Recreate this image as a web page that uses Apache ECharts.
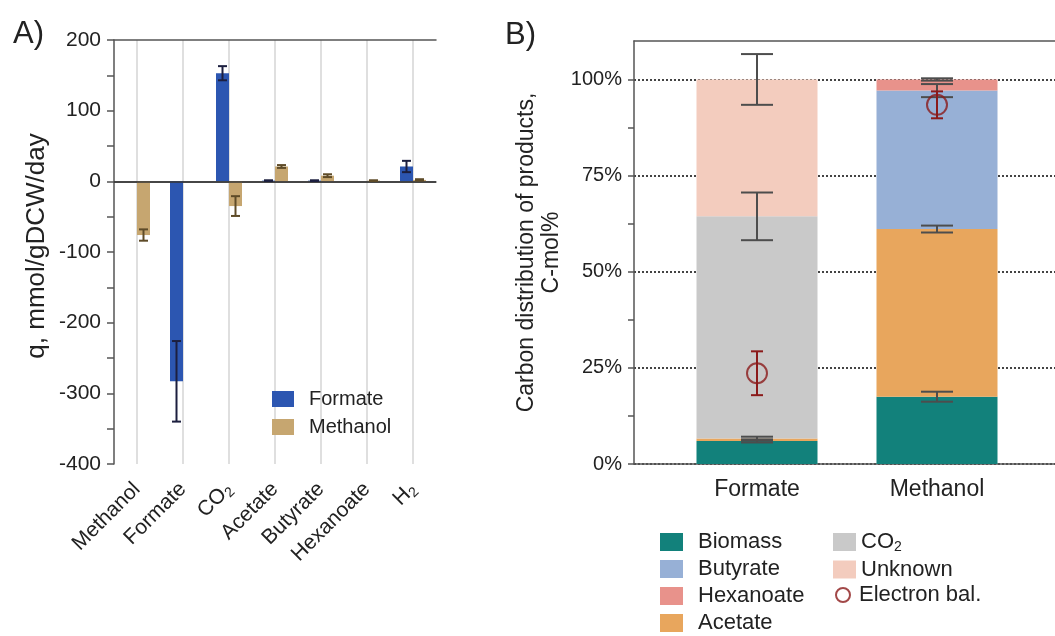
<!DOCTYPE html>
<html>
<head>
<meta charset="utf-8">
<script src="https://cdn.jsdelivr.net/npm/echarts@6/dist/echarts.min.js"></script>
<style>
    html, body { margin: 0; padding: 0; background: #fff; }
    #chart { width: 1055px; height: 636px; }
</style>
</head>
<body>
<div id="chart"></div>
<script>
    // panel A: specific rates, mmol/gDCW/day
    var compoundsA = ['Methanol', 'Formate', 'CO2', 'Acetate', 'Butyrate', 'Hexanoate', 'H2'];
    var qFormate = [0, -283, 153, 1, 1, 0, 21];
    var qFormateErr = [0, 57, 10, 0.5, 0.5, 0, 8];
    var qMethanol = [-76, 0, -35, 21, 8, 1, 2];
    var qMethanolErr = [8, 0, 14, 2, 2, 0.5, 1];

    // panel B: carbon distribution, C-mol%
    var substratesB = ['Formate', 'Methanol'];
    var biomass = [6.0, 17.5];
    var biomassErr = [0.4, 1.3];
    var acetate = [0.6, 43.6];
    var acetateErr = [0.5, 0.9];
    var butyrate = [0, 36.0];
    var butyrateErr = [0, 1.7];
    var hexanoate = [0, 2.9];
    var hexanoateErr = [0, 0.3];
    var co2 = [57.8, 0];
    var co2Err = [6.2, 0];
    var unknown = [35.6, 0];
    var unknownErr = [6.6, 0];
    var electronBal = [23.6, 93.4];
    var electronBalErr = [5.7, 3.5];

    var FONT = 'Liberation Sans, Arial, sans-serif';
    var AXIS = '#555';
    var colors = {
        formate: '#2c56b1', methanol: '#c6a670',
        biomass: '#12817b', butyrate: '#97b0d6', hexanoate: '#e8928b',
        acetate: '#e8a65d', co2: '#c9c9c9', unknown: '#f3ccbe', ebal: '#8b1a1a'
    };

    //下标文字
    function subLabel(name) {
        if (name === 'CO2') return '{n|CO}{s|2}';
        if (name === 'H2') return '{n|H}{s|2}';
        return '{n|' + name + '}';
    }
    function richSub(size) {
        return {
            n: { fontSize: size, fontFamily: FONT, color: '#222' },
            s: { fontSize: Math.round(size * 0.65), fontFamily: FONT, color: '#222', padding: [Math.round(size * 0.5), 0, 0, 0] }
        };
    }

    //误差线 (A)
    function errA(offset, color) {
        return function (params, api) {
            var e = api.value(2);
            if (!e) return;
            var hi = api.coord([api.value(0), api.value(1) + e]);
            var lo = api.coord([api.value(0), api.value(1) - e]);
            var x = hi[0] + offset, hw = 4.5;
            var st = { stroke: color, lineWidth: 2 };
            return {
                type: 'group', children: [
                    { type: 'line', shape: { x1: x, y1: hi[1], x2: x, y2: lo[1] }, style: st },
                    { type: 'line', shape: { x1: x - hw, y1: hi[1], x2: x + hw, y2: hi[1] }, style: st },
                    { type: 'line', shape: { x1: x - hw, y1: lo[1], x2: x + hw, y2: lo[1] }, style: st }
                ]
            };
        };
    }
    //误差线 (B)
    function errB(halfCap, color) {
        return function (params, api) {
            var e = api.value(2);
            if (!e) return;
            var hi = api.coord([api.value(0), api.value(1) + e]);
            var lo = api.coord([api.value(0), api.value(1) - e]);
            var x = hi[0];
            var st = { stroke: color, lineWidth: 2 };
            return {
                type: 'group', children: [
                    { type: 'line', shape: { x1: x, y1: hi[1], x2: x, y2: lo[1] }, style: st },
                    { type: 'line', shape: { x1: x - halfCap, y1: hi[1], x2: x + halfCap, y2: hi[1] }, style: st },
                    { type: 'line', shape: { x1: x - halfCap, y1: lo[1], x2: x + halfCap, y2: lo[1] }, style: st }
                ]
            };
        };
    }

    //堆叠顶部 + 误差
    var stackOrder = [biomass, acetate, butyrate, hexanoate, co2, unknown];
    var stackErr = [biomassErr, acetateErr, butyrateErr, hexanoateErr, co2Err, unknownErr];
    var errDataB = [];
    for (var c = 0; c < substratesB.length; c++) {
        var cum = 0;
        for (var k = 0; k < stackOrder.length; k++) {
            cum += stackOrder[k][c];
            if (stackOrder[k][c] > 0 && stackErr[k][c] > 0)
                errDataB.push([c, cum, stackErr[k][c]]);
        }
    }

    var legendText = function (size, gap) {
        return { fontSize: size, color: '#222', fontFamily: FONT, padding: [0, 0, 0, gap] };
    };

    var chart = echarts.init(document.getElementById('chart'));
    var option = {
        animation: false,
        textStyle: { fontFamily: FONT },
        title: [
            { text: 'A)', left: 8, top: 14, textStyle: { fontSize: 31, fontWeight: 'normal', color: '#222', fontFamily: FONT } },
            { text: 'B)', left: 500, top: 15, textStyle: { fontSize: 31, fontWeight: 'normal', color: '#222', fontFamily: FONT } }
        ],
        legend: [
            {
                data: ['Formate', 'Methanol'], left: 272, top: 389, orient: 'vertical', padding: 0, height: 100,
                icon: 'rect', itemWidth: 22, itemHeight: 16, itemGap: 8,
                textStyle: legendText(20, 10)
            },
            {
                data: ['Biomass', 'Butyrate', 'Hexanoate', 'Acetate'], left: 660, top: 531, orient: 'vertical',
                padding: 0, height: 140,
                icon: 'rect', itemWidth: 23, itemHeight: 18, itemGap: 5,
                textStyle: legendText(22, 10)
            },
            {
                data: ['CO2', 'Unknown'], left: 833, top: 531, orient: 'vertical', padding: 0, height: 140,
                icon: 'rect', itemWidth: 23, itemHeight: 18, itemGap: 4,
                formatter: subLabel,
                textStyle: { fontSize: 22, color: '#222', fontFamily: FONT, rich: richSub(22) }
            },
            {
                data: [{ name: 'Electron bal.', icon: 'circle', itemStyle: { color: 'transparent', borderColor: colors.ebal, borderWidth: 2 } }],
                left: 835, top: 584, padding: 0, itemWidth: 14, itemHeight: 14,
                textStyle: legendText(22, 4)
            }
        ],
        grid: [
            { left: 114, top: 40, width: 322, height: 424 },
            { left: 667, top: 41, width: 360, height: 423 },
            { left: 634, top: 41, right: -10, height: 423 }
        ],
        xAxis: [
            {
                type: 'category', gridIndex: 0, data: compoundsA,
                axisLine: { lineStyle: { color: AXIS, width: 1.5 } },
                axisTick: { alignWithLabel: true, length: 7, lineStyle: { color: AXIS, width: 1.5 } },
                splitLine: { show: true, alignWithLabel: true, lineStyle: { color: '#d4d4d4', width: 1.5 } },
                axisLabel: { interval: 0, rotate: 45, margin: 22, formatter: subLabel, rich: richSub(21) }
            },
            {
                type: 'category', gridIndex: 0, data: compoundsA, position: 'top',
                axisLine: { lineStyle: { color: AXIS, width: 1.5 } },
                axisTick: { show: false }, axisLabel: { show: false }
            },
            {
                type: 'category', gridIndex: 1, data: substratesB,
                axisLine: { show: false },
                axisTick: { alignWithLabel: true, length: 7, lineStyle: { color: AXIS, width: 1.5 } },
                axisLabel: { fontSize: 23, color: '#222', margin: 14 }
            },
            {
                type: 'value', gridIndex: 2, min: 0, max: 1,
                axisLine: { show: true, lineStyle: { color: AXIS, width: 1.5 } },
                axisTick: { show: false }, axisLabel: { show: false }, splitLine: { show: false }
            },
            {
                type: 'value', gridIndex: 2, min: 0, max: 1, position: 'top',
                axisLine: { show: true, lineStyle: { color: AXIS, width: 1.5 } },
                axisTick: { show: false }, axisLabel: { show: false }, splitLine: { show: false }
            }
        ],
        yAxis: [
            {
                type: 'value', gridIndex: 0, min: -400, max: 200, interval: 50,
                axisLine: { show: true, lineStyle: { color: AXIS, width: 1.5 } },
                axisTick: { show: true, length: 7, lineStyle: { color: AXIS, width: 1.5 } },
                splitLine: { show: false },
                axisLabel: {
                    fontSize: 21, color: '#222', margin: 13,
                    formatter: function (v) { return v % 100 === 0 ? String(v) : ''; }
                },
                name: 'q, mmol/gDCW/day', nameLocation: 'middle', nameGap: 64,
                nameTextStyle: { fontSize: 26, color: '#222', padding: [0, 0, 0, 12] }
            },
            {
                type: 'value', gridIndex: 1, min: 0, max: 110, show: false
            },
            {
                type: 'value', gridIndex: 2, min: 0, max: 110, interval: 12.5,
                axisLine: { show: true, lineStyle: { color: AXIS, width: 1.5 } },
                axisTick: { show: true, length: 6, lineStyle: { color: AXIS, width: 1.5 } },
                splitLine: { show: true, lineStyle: { color: ['#444', 'transparent'], width: 2, type: [2, 2] } },
                axisLabel: {
                    fontSize: 20, color: '#222', margin: 12, showMaxLabel: false,
                    formatter: function (v) { return v % 25 === 0 ? v + '%' : ''; }
                },
                name: 'Carbon distribution of products,\nC-mol%', nameLocation: 'middle', nameGap: 70,
                nameTextStyle: { fontSize: 23, color: '#222', lineHeight: 25 }
            }
        ],
        series: [
            {
                name: 'Formate', type: 'bar', xAxisIndex: 0, yAxisIndex: 0, data: qFormate,
                barWidth: 13, barGap: '0%', itemStyle: { color: colors.formate },
                markLine: {
                    silent: true, symbol: 'none', label: { show: false },
                    lineStyle: { color: '#333', width: 1.5, type: 'solid' },
                    data: [{ yAxis: 0 }]
                }
            },
            {
                name: 'Methanol', type: 'bar', xAxisIndex: 0, yAxisIndex: 0, data: qMethanol,
                barWidth: 13, barGap: '0%', itemStyle: { color: colors.methanol }
            },
            {
                name: 'Formate err', type: 'custom', xAxisIndex: 0, yAxisIndex: 0, z: 10,
                renderItem: errA(-6.5, '#1c1f3f'),
                data: qFormate.map(function (v, i) { return [i, v, qFormateErr[i]]; })
            },
            {
                name: 'Methanol err', type: 'custom', xAxisIndex: 0, yAxisIndex: 0, z: 10,
                renderItem: errA(6.5, '#5e4b28'),
                data: qMethanol.map(function (v, i) { return [i, v, qMethanolErr[i]]; })
            },
            { name: 'Biomass', type: 'bar', stack: 'c', xAxisIndex: 2, yAxisIndex: 1, barWidth: 121, data: biomass, itemStyle: { color: colors.biomass } },
            { name: 'Acetate', type: 'bar', stack: 'c', xAxisIndex: 2, yAxisIndex: 1, barWidth: 121, data: acetate, itemStyle: { color: colors.acetate } },
            { name: 'Butyrate', type: 'bar', stack: 'c', xAxisIndex: 2, yAxisIndex: 1, barWidth: 121, data: butyrate, itemStyle: { color: colors.butyrate } },
            { name: 'Hexanoate', type: 'bar', stack: 'c', xAxisIndex: 2, yAxisIndex: 1, barWidth: 121, data: hexanoate, itemStyle: { color: colors.hexanoate } },
            { name: 'CO2', type: 'bar', stack: 'c', xAxisIndex: 2, yAxisIndex: 1, barWidth: 121, data: co2, itemStyle: { color: colors.co2 } },
            { name: 'Unknown', type: 'bar', stack: 'c', xAxisIndex: 2, yAxisIndex: 1, barWidth: 121, data: unknown, itemStyle: { color: colors.unknown } },
            {
                name: 'Stack err', type: 'custom', xAxisIndex: 2, yAxisIndex: 1, z: 10,
                renderItem: errB(16, '#4d4d4d'), data: errDataB
            },
            {
                name: 'Electron bal. err', type: 'custom', xAxisIndex: 2, yAxisIndex: 1, z: 11,
                renderItem: errB(6, colors.ebal),
                data: electronBal.map(function (v, i) { return [i, v, electronBalErr[i]]; })
            },
            {
                name: 'Electron bal.', type: 'scatter', xAxisIndex: 2, yAxisIndex: 1, z: 12,
                symbol: 'circle', symbolSize: 20, data: electronBal,
                itemStyle: { color: 'transparent', borderColor: colors.ebal, borderWidth: 2 }
            }
        ]
    };
    chart.setOption(option);
</script>
</body>
</html>
